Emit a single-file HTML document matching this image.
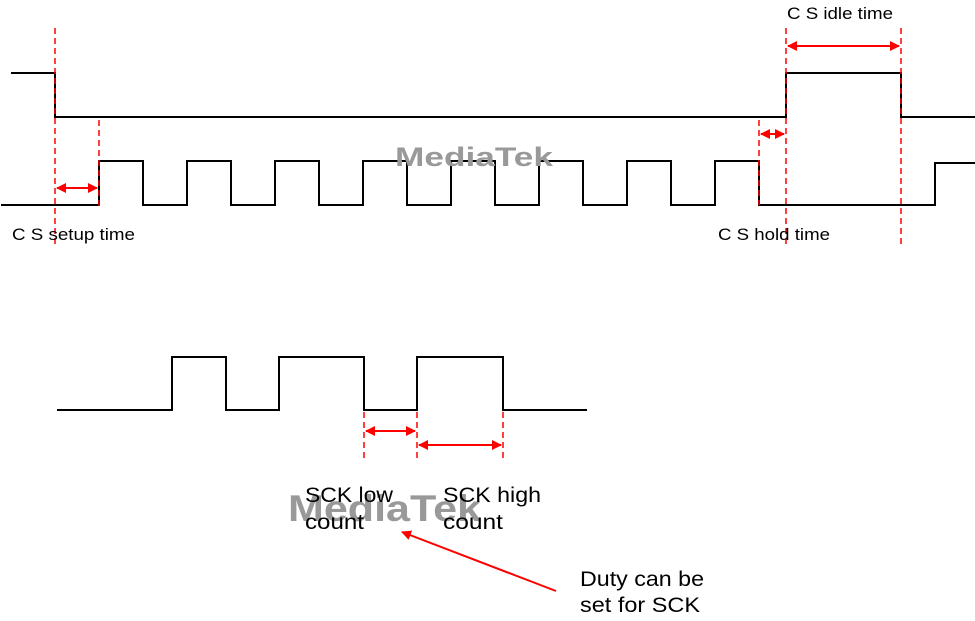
<!DOCTYPE html>
<html><head><style>body{margin:0;background:#fff}svg{display:block}</style></head><body>
<svg width="975" height="621" viewBox="0 0 975 621" xmlns="http://www.w3.org/2000/svg" font-family="Liberation Sans, Arial, sans-serif">
<defs>
<marker id="a" viewBox="0 0 10 10" refX="9" refY="5" markerWidth="5" markerHeight="5" orient="auto-start-reverse"><path d="M0,0L10,5L0,10z" fill="#f00"/></marker>
</defs>
<g fill="none" stroke="#000" stroke-width="2">
<polyline points="11,73 55,73 55,117 786,117 786,73 901,73 901,117 975,117"/>
<polyline points="1,205 99,205 99,161 143,161 143,205 187,205 187,161 231,161 231,205 275,205 275,161 319,161 319,205 363,205 363,161 407,161 407,205 451,205 451,161 495,161 495,205 539,205 539,161 583,161 583,205 627,205 627,161 671,161 671,205 715,205 715,161 759,161 759,205 935,205 935,163 975,163"/>
<polyline points="57,410 172,410 172,357 226,357 226,410 279,410 279,357 364,357 364,410 417,410 417,357 503,357 503,410 587,410"/>
</g>
<text x="395" y="166" font-size="27" font-weight="bold" fill="#999" textLength="158" lengthAdjust="spacingAndGlyphs">MediaTek</text>
<text x="288" y="521" font-size="37" font-weight="bold" fill="#999" textLength="193" lengthAdjust="spacingAndGlyphs">MediaTek</text>
<g stroke="#f00" stroke-width="1.5" stroke-dasharray="6,4" fill="none">
<line x1="55" y1="28" x2="55" y2="245"/>
<line x1="99" y1="120" x2="99" y2="210"/>
<line x1="759" y1="120" x2="759" y2="205"/>
<line x1="786" y1="28" x2="786" y2="245"/>
<line x1="901" y1="28" x2="901" y2="245"/>
<line x1="364" y1="412" x2="364" y2="460"/>
<line x1="417" y1="412" x2="417" y2="460"/>
<line x1="503" y1="412" x2="503" y2="460"/>
</g>
<g stroke="#f00" stroke-width="2" fill="none" marker-start="url(#a)" marker-end="url(#a)">
<line x1="57" y1="188" x2="97" y2="188"/>
<line x1="761" y1="134" x2="784" y2="134"/>
<line x1="788" y1="46" x2="899" y2="46"/>
<line x1="366" y1="431" x2="415" y2="431"/>
<line x1="419" y1="445" x2="501" y2="445"/>
</g>
<line x1="556" y1="591" x2="402" y2="532" stroke="#f00" stroke-width="2" marker-end="url(#a)"/>
<g font-size="17" fill="#000">
<text x="12" y="240" textLength="123" lengthAdjust="spacingAndGlyphs">C S setup time</text>
<text x="718" y="240" textLength="112" lengthAdjust="spacingAndGlyphs">C S hold time</text>
<text x="787" y="19" textLength="106" lengthAdjust="spacingAndGlyphs">C S idle time</text>
</g>
<g font-size="21" fill="#000">
<text x="305" y="502" textLength="88" lengthAdjust="spacingAndGlyphs">SCK low</text>
<text x="305" y="529" textLength="59" lengthAdjust="spacingAndGlyphs">count</text>
<text x="443" y="502" textLength="98" lengthAdjust="spacingAndGlyphs">SCK high</text>
<text x="443" y="529" textLength="60" lengthAdjust="spacingAndGlyphs">count</text>
<text x="580" y="586" textLength="124" lengthAdjust="spacingAndGlyphs">Duty can be</text>
<text x="580" y="612" textLength="120" lengthAdjust="spacingAndGlyphs">set for SCK</text>
</g>
</svg>
</body></html>
